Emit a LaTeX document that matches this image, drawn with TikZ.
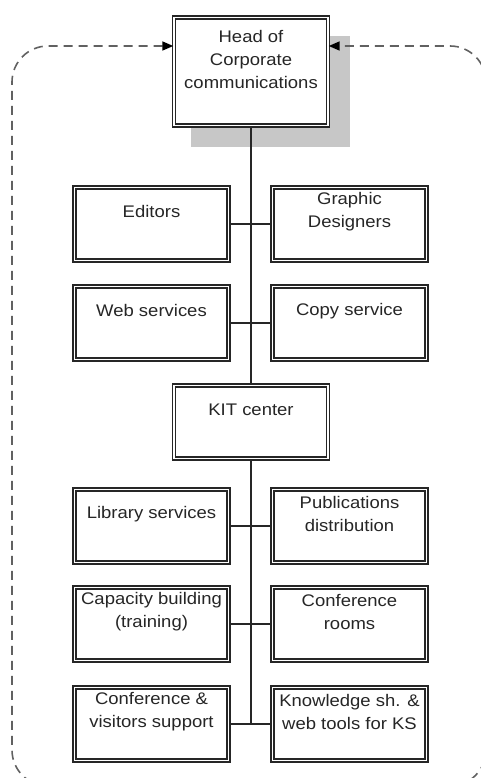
\documentclass[tikz,border=0pt]{standalone}
\usepackage{fontspec}
\setmainfont{Liberation Sans}[FakeStretch=1.1]
\usetikzlibrary{arrows.meta,calc,backgrounds}

\tikzset{
  unit/.style={draw=black!85, double=white, double distance=1.5pt, line width=1.4pt,
    fill=white, minimum width=154pt, minimum height=73pt, inner sep=0pt},
  unittext/.style={anchor=center, yshift=-25pt, align=center,
    font=\fontsize{16.8}{23}\selectfont, text=black!85},
  link/.style={line width=1.1pt, black!85},
  loopback/.style={dash pattern=on 9pt off 6pt, line width=1.6pt, black!62,
    rounded corners=36pt,
    {Triangle[length=11pt,width=9pt,color=black]}-{Triangle[length=11pt,width=9pt,color=black]}},
}

\begin{document}
\begin{tikzpicture}[x=1pt,y=1pt]
  \path[use as bounding box, clip] (0,0) rectangle (481,-778);

  % head of the unit
  \node[unit, minimum height=108pt, label={[unittext, yshift=-18pt]north:{Head of\\Corporate\\communications}}] (head) at (251,-71.5) {};

  % services
  \node[unit, label={[unittext]north:Editors}] (ed) at (151.5,-224) {};
  \node[unit, label={[unittext]north:{Graphic\\Designers}}] (gd) at (349.5,-224) {};
  \node[unit, label={[unittext]north:Web services}] (web) at (151.5,-323) {};
  \node[unit, label={[unittext]north:Copy service}] (copy) at (349.5,-323) {};

  % KIT center and its units
  \node[unit, label={[unittext]north:KIT center}] (kit) at (251,-422) {};
  \node[unit, label={[unittext]north:Library services}] (lib) at (151.5,-526) {};
  \node[unit, label={[unittext]north:{Publications\\distribution}}] (pub) at (349.5,-526) {};
  \node[unit, label={[unittext]north:{Capacity building\\(training)}}] (cap) at (151.5,-624) {};
  \node[unit, label={[unittext]north:{Conference\\rooms}}] (rooms) at (349.5,-624) {};
  \node[unit, label={[unittext]north:{Conference \&\\visitors support}}] (visit) at (151.5,-724) {};
  \node[unit, label={[unittext]north:{Knowledge sh. \&\\web tools for KS}}] (ks) at (349.5,-724) {};

  \begin{scope}[on background layer]
    \fill[black!22] ($(head.north west)+(18,-19)$) rectangle ($(head.south east)+(21,-21)$);
  \end{scope}

  % connectors
  \draw[link] (head.south) -- (kit.north);
  \draw[link] (kit.south) -- (kit.south |- visit.east);
  \draw[link] (ed.east) -- (gd.west);
  \draw[link] (web.east) -- (copy.west);
  \draw[link] (lib.east) -- (pub.west);
  \draw[link] (cap.east) -- (rooms.west);
  \draw[link] (visit.east) -- (ks.west);

  % feedback loop
  \draw[loopback] (head.west |- 0,-46) -- (12,-46) -- (12,-786) -- (486,-786) -- (486,-46) -- (head.east |- 0,-46);
\end{tikzpicture}
\end{document}
